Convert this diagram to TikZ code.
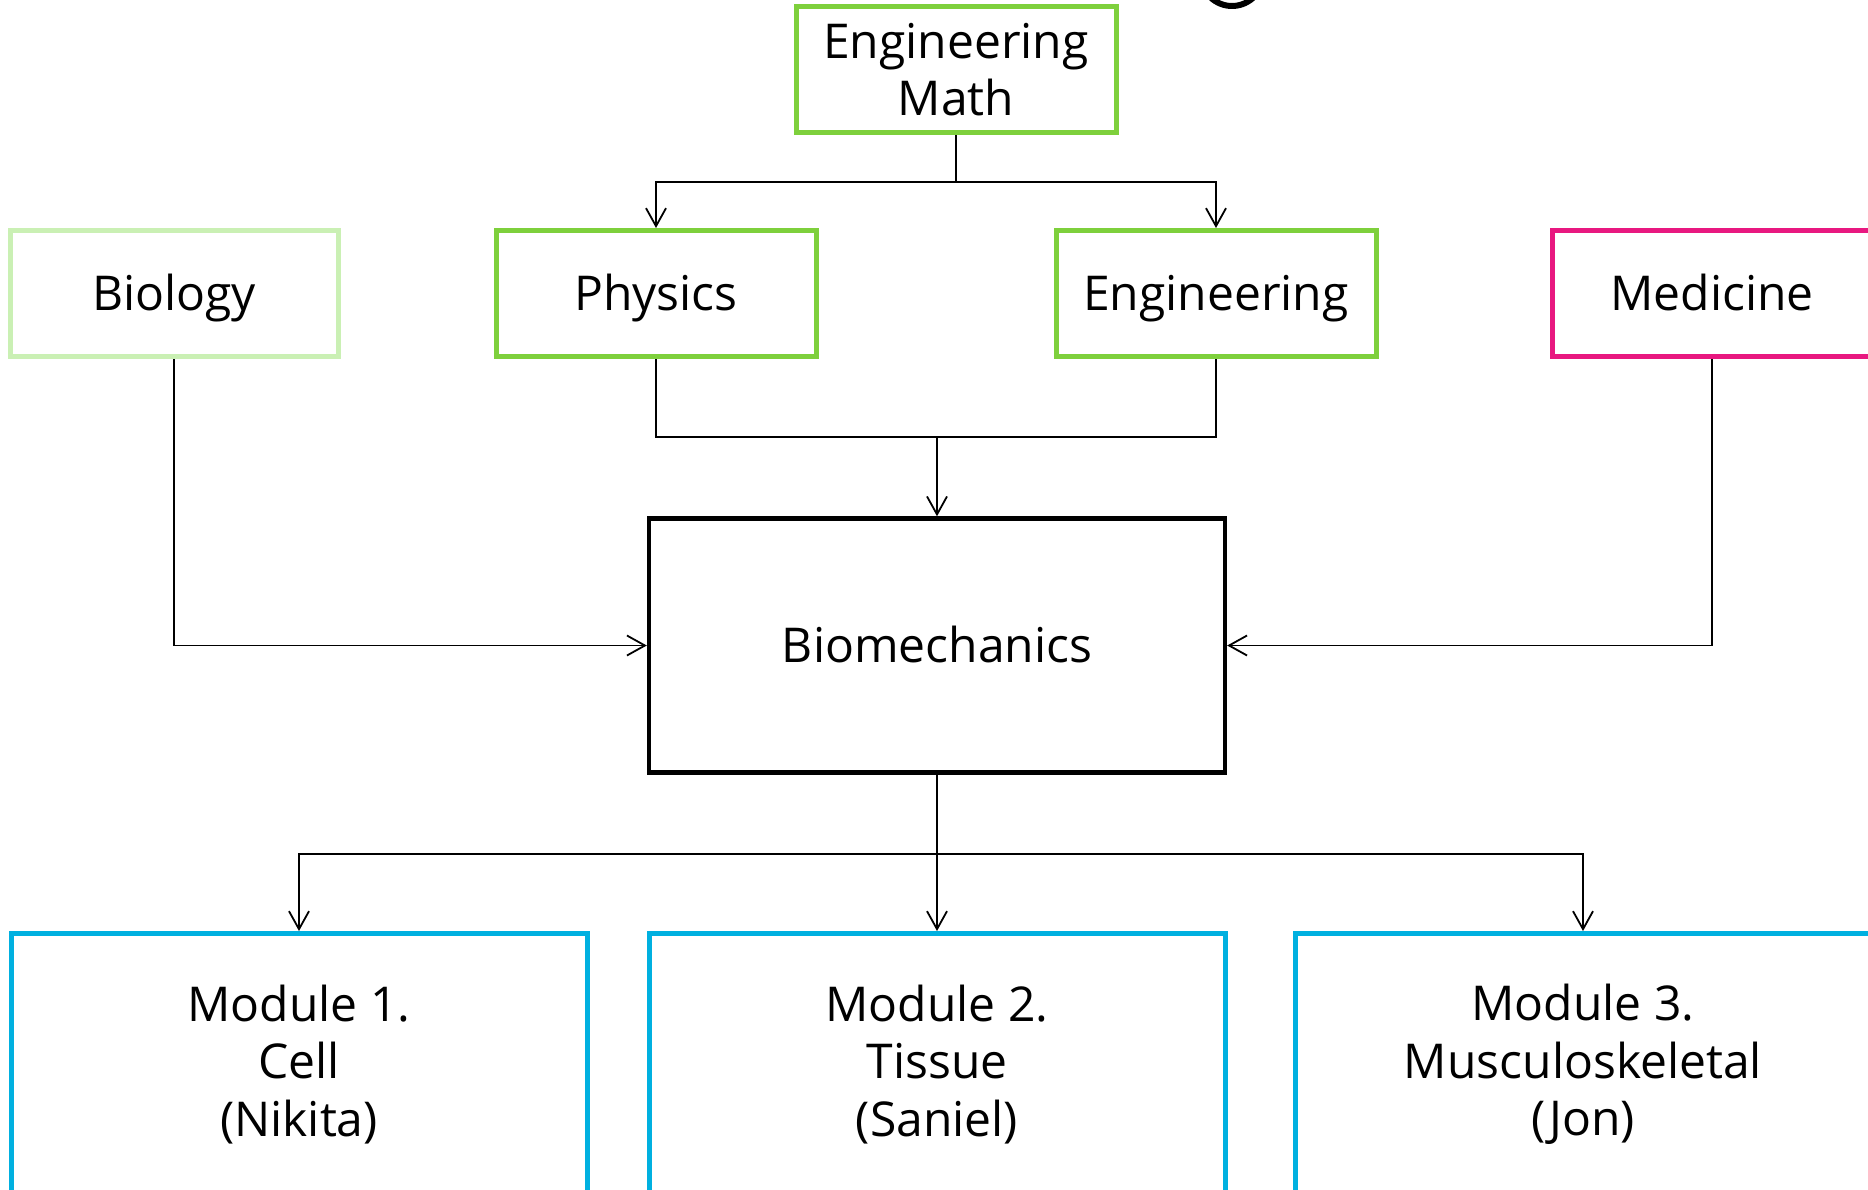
\documentclass[tikz,border=0pt]{standalone}
\usepackage{fontspec}
\setmainfont{Open Sans}
\usetikzlibrary{positioning, arrows.meta}

\definecolor{topicgreen}{RGB}{126,208,60}
\definecolor{palegreen}{RGB}{202,240,180}
\definecolor{medpink}{RGB}{232,24,128}
\definecolor{modcyan}{RGB}{0,176,224}

\tikzset{
    subject/.style={draw, line width=2.5pt, minimum width=160pt, minimum height=63pt,
        inner sep=0pt, align=center, font=\fontsize{24}{28.8}\selectfont},
    oneline/.style={text height=17pt, text depth=0pt},
    module/.style={subject, draw=modcyan, minimum width=288pt, minimum height=131pt},
    conn/.style={line width=0.9pt},
    arr/.style={conn, -{Straight Barb[length=9pt,width=10pt]}}
}

\begin{document}
\begin{tikzpicture}[x=0.5pt, y=-0.5pt]
    \useasboundingbox (0,0) rectangle (1868,1189);
    % cut-off title letter at the top edge
    \draw [line width=3pt] (1232,-25) ++(20:31) arc[start angle=20, end angle=160, radius=31];

    \node (EngMath) [subject, draw=topicgreen] at (956,69.5) {Engineering\\Math};
    \node (Biology) [subject, oneline, draw=palegreen, minimum width=164pt] at (174,293.5) {Biology};
    \node (Physics) [subject, oneline, draw=topicgreen] at (656,293.5) {Physics};
    \node (Engineering) [subject, oneline, draw=topicgreen] at (1216,293.5) {Engineering};
    \node (Medicine) [subject, oneline, draw=medpink] at (1712,293.5) {Medicine};
    \node (Biomech) [subject, oneline, draw=black, line width=2.2pt, minimum width=288pt, minimum height=127pt] at (937,645.5) {Biomechanics};
    \node (Mod1) [module] at (299,1064.5) {Module 1.\\Cell\\(Nikita)};
    \node (Mod2) [module] at (937,1064.5) {Module 2.\\Tissue\\(Saniel)};
    \node (Mod3) [module] at (1583,1064.5) {Module 3.\\Musculoskeletal\\(Jon)};

    \coordinate (MathSplit) at (956,182);
    \coordinate (Join) at (937,437);
    \coordinate (Bus) at (937,854);

    \draw [conn] (EngMath.south) -- (MathSplit);
    \draw [arr] (MathSplit) -| (Physics.north);
    \draw [arr] (MathSplit) -| (Engineering.north);
    \draw [conn] (Physics.south) |- (Join);
    \draw [conn] (Engineering.south) |- (Join);
    \draw [arr] (Join) -- (Biomech.north);
    \draw [arr] (Biology.south) |- (Biomech.west);
    \draw [arr] (Medicine.south) |- (Biomech.east);
    \draw [conn] (Biomech.south) -- (Bus);
    \draw [arr] (Bus) -| (Mod1.north);
    \draw [arr] (Bus) -- (Mod2.north);
    \draw [arr] (Bus) -| (Mod3.north);
\end{tikzpicture}
\end{document}
